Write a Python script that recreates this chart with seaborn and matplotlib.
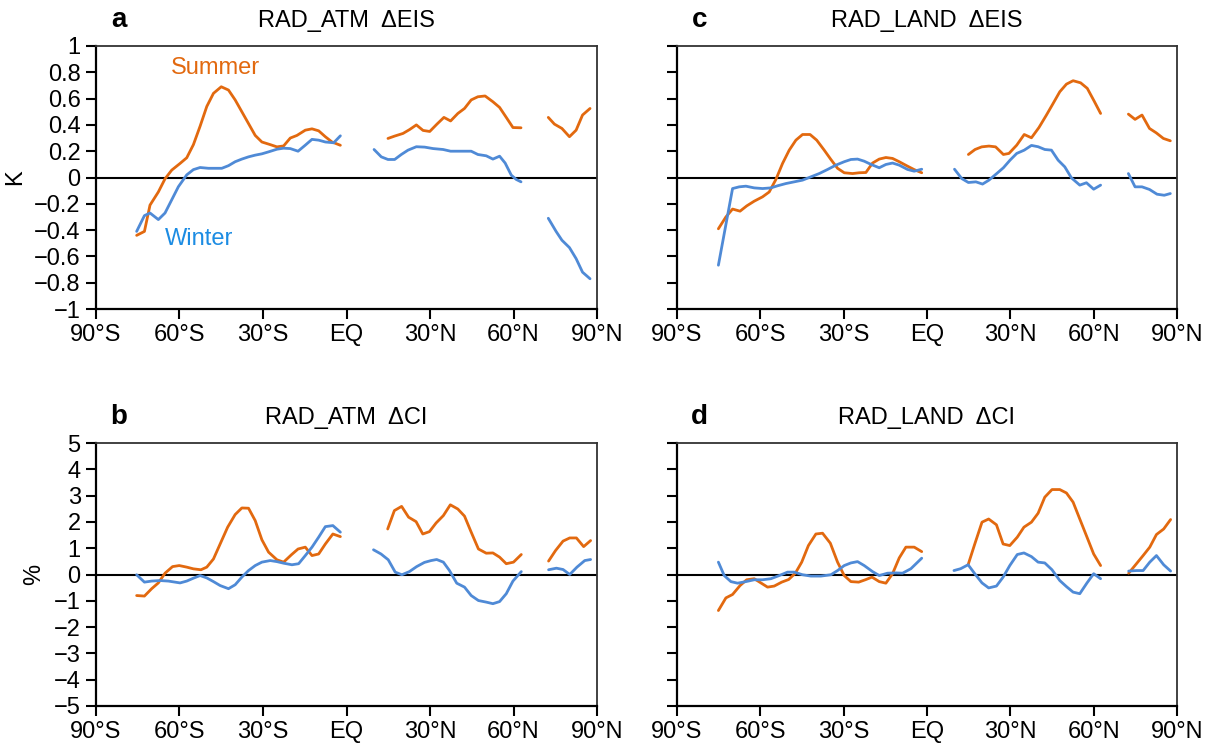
import numpy as np
import pandas as pd
import matplotlib
matplotlib.use("Agg")
import matplotlib.pyplot as plt
import seaborn as sns

sns.set_theme(style="ticks")
plt.rcParams["font.family"] = ["Liberation Sans", "DejaVu Sans"]
plt.rcParams["text.color"] = "black"
plt.rcParams["axes.labelcolor"] = "black"
plt.rcParams["xtick.color"] = "black"
plt.rcParams["ytick.color"] = "black"

# ---------------- data (None separates line segments) ----------------
# Panel a: RAD_ATM  dEIS (K)
a_sum_lat = [-75.4, -72.6, -70.6, -67.6, -65.2, -62.8, -59.8, -57.4, -55, -52.6, -50.2, -47.8, -45, -42.4, -40,
             -37.6, -35.2, -32.8, -30.4, -27.4, -25, -22.6, -20.2, -17.8, -14.8, -12.4, -10, -7.6, -5.2, -2.2, None,
             14.9, 17.3, 20.3, 22.7, 25.1, 27.5, 29.9, 32.5, 35, 37.4, 40, 42.4, 44.8, 47.2, 49.8, 52.6, 55, 57.4,
             59.8, 62.7, None,
             72.5, 74.7, 77.4, 80.1, 82.5, 84.8, 87.5]
a_sum_val = [-0.44, -0.41, -0.21, -0.11, -0.01, 0.056, 0.107, 0.15, 0.25, 0.39, 0.54, 0.64, 0.69, 0.665, 0.59,
             0.50, 0.41, 0.32, 0.27, 0.25, 0.233, 0.24, 0.30, 0.32, 0.36, 0.37, 0.355, 0.31, 0.27, 0.245, None,
             0.297, 0.315, 0.335, 0.365, 0.40, 0.358, 0.35, 0.406, 0.457, 0.43, 0.487, 0.525, 0.59, 0.614, 0.62,
             0.576, 0.533, 0.457, 0.38, 0.378, None,
             0.457, 0.406, 0.373, 0.31, 0.36, 0.475, 0.525]
a_win_lat = [-75.4, -72.6, -70.6, -67.6, -65.2, -62.8, -60.4, -57.4, -55, -52.6, -49.6, -44.8, -42.4, -40, -37.6,
             -35.2, -32.8, -30.4, -28, -25, -22.6, -20.2, -17.4, -14.8, -12.4, -10, -7.6, -4.6, -2.2, None,
             9.9, 12.5, 14.9, 17.3, 19.7, 22.1, 25.1, 28.1, 31.1, 34.7, 37.4, 40.6, 44.8, 47.2, 50.2, 52.6, 55,
             57, 59.2, 61, 62.7, None,
             72.5, 75.3, 77.4, 80.1, 82.5, 84.8, 87.5]
a_win_val = [-0.41, -0.29, -0.27, -0.32, -0.27, -0.17, -0.07, 0.02, 0.06, 0.076, 0.07, 0.07, 0.09, 0.12, 0.14,
             0.157, 0.17, 0.18, 0.195, 0.215, 0.223, 0.22, 0.20, 0.246, 0.29, 0.284, 0.27, 0.264, 0.317, None,
             0.213, 0.157, 0.137, 0.137, 0.175, 0.208, 0.234, 0.231, 0.22, 0.213, 0.20, 0.20, 0.20, 0.175, 0.165,
             0.14, 0.162, 0.11, 0.018, -0.015, -0.033, None,
             -0.31, -0.41, -0.477, -0.533, -0.617, -0.72, -0.77]

# Panel b: RAD_ATM  dCI (%)
b_sum_lat = [-75.4, -72.6, -70, -67.6, -65.2, -62.5, -60.1, -57.4, -55, -52.3, -50.2, -47.8, -45.4, -42.7, -40,
             -37.6, -35.2, -32.8, -30.4, -28, -25, -22.6, -19.8, -17.4, -14.8, -12.4, -10, -7.6, -4.9, -2.2, None,
             14.8, 17.2, 19.8, 22.3, 25, 27.4, 29.8, 32.2, 34.8, 37.3, 40, 42.4, 44.8, 47.4, 50.2, 52.6, 55, 57.4,
             60, 62.8, None,
             72.6, 75.1, 77.8, 80.2, 82.6, 85.2, 87.7]
b_sum_val = [-0.80, -0.82, -0.54, -0.32, 0.05, 0.30, 0.34, 0.28, 0.215, 0.18, 0.28, 0.59, 1.16, 1.80, 2.28,
             2.53, 2.52, 2.05, 1.32, 0.85, 0.56, 0.47, 0.75, 0.97, 1.04, 0.72, 0.78, 1.16, 1.54, 1.44, None,
             1.73, 2.43, 2.59, 2.18, 2.01, 1.54, 1.63, 1.96, 2.24, 2.65, 2.49, 2.22, 1.61, 0.97, 0.81, 0.82, 0.66,
             0.41, 0.47, 0.76, None,
             0.51, 0.91, 1.27, 1.39, 1.39, 1.06, 1.29]
b_win_lat = [-75.4, -72.6, -70, -67, -64, -59.8, -57.4, -55, -52.6, -50.2, -47.8, -45.4, -42.4, -40, -37.6,
             -35.2, -32.8, -30.4, -27.4, -25, -22.6, -19.6, -17.2, -14.8, -12.4, -10, -7.6, -4.9, -2.2, None,
             9.7, 12.4, 15, 17.5, 19.9, 22.6, 25.2, 28, 30.4, 32.4, 34.8, 37, 39.6, 42.4, 44.8, 47.4, 50.2, 52.6,
             55, 57.4, 59.8, 62.8, None,
             72.6, 75.4, 77.8, 80.2, 82.8, 85.6, 87.7]
b_win_val = [-0.01, -0.29, -0.25, -0.23, -0.25, -0.32, -0.25, -0.14, -0.04, -0.13, -0.27, -0.42, -0.54, -0.39,
             -0.10, 0.15, 0.34, 0.47, 0.53, 0.49, 0.43, 0.37, 0.41, 0.72, 1.04, 1.42, 1.82, 1.86, 1.61, None,
             0.94, 0.78, 0.56, 0.09, -0.01, 0.11, 0.30, 0.46, 0.53, 0.57, 0.47, 0.15, -0.33, -0.48, -0.80, -0.99,
             -1.05, -1.11, -1.03, -0.73, -0.25, 0.11, None,
             0.18, 0.24, 0.19, 0.0, 0.28, 0.53, 0.57]

# Panel c: RAD_LAND  dEIS (K)
c_sum_lat = [-75.1, -72.4, -70, -67.3, -64.9, -62.2, -59.2, -56.8, -54.4, -52, -49.6, -47.2, -44.8, -42.1, -39.7,
             -37, -34.6, -32.2, -29.8, -26.8, -24.4, -22, -19.6, -17.2, -14.8, -12.4, -10, -7, -4.6, -1.9, None,
             14.9, 17.3, 19.7, 22.3, 24.7, 27.5, 29.5, 32.3, 35, 37.6, 40.3, 43, 45.4, 47.8, 50.2, 52.6, 55.3,
             57.7, 60.1, 62.5, None,
             72.5, 74.9, 77.4, 80.1, 82.5, 85.1, 87.6]
c_sum_val = [-0.39, -0.30, -0.24, -0.256, -0.216, -0.18, -0.147, -0.11, -0.015, 0.107, 0.208, 0.284, 0.327, 0.327,
             0.284, 0.208, 0.137, 0.07, 0.036, 0.03, 0.036, 0.038, 0.11, 0.14, 0.152, 0.145, 0.12, 0.086, 0.06,
             0.036, None,
             0.175, 0.213, 0.233, 0.239, 0.233, 0.175, 0.183, 0.246, 0.327, 0.302, 0.38, 0.475, 0.563, 0.652, 0.71,
             0.736, 0.72, 0.678, 0.584, 0.487, None,
             0.482, 0.442, 0.475, 0.373, 0.34, 0.297, 0.279]
c_win_lat = [-75.1, -70, -67.6, -65.2, -62.2, -59.2, -56.2, -53.8, -50.8, -47.8, -44.8, -41.8, -38.8, -35.8,
             -32.8, -29.8, -27.4, -25, -22.6, -20.2, -17.2, -14.8, -12.4, -10, -7, -4.6, -1.9, None,
             9.9, 12.5, 14.9, 17.6, 20, 22.3, 25.1, 27.5, 29.9, 32.3, 35, 37.6, 40, 42.4, 44.8, 47.2, 49.6, 52,
             55, 57.4, 60, 62.5, None,
             72.5, 74.9, 77.4, 80.1, 82.8, 85.4, 87.6]
c_win_val = [-0.667, -0.084, -0.071, -0.066, -0.079, -0.084, -0.079, -0.063, -0.046, -0.033, -0.02, 0.005, 0.03,
             0.061, 0.094, 0.12, 0.137, 0.14, 0.124, 0.10, 0.074, 0.099, 0.11, 0.094, 0.061, 0.048, 0.063, None,
             0.063, -0.008, -0.038, -0.033, -0.05, -0.02, 0.03, 0.074, 0.132, 0.183, 0.208, 0.244, 0.234, 0.213,
             0.208, 0.132, 0.081, -0.003, -0.058, -0.04, -0.089, -0.058, None,
             0.03, -0.071, -0.071, -0.091, -0.127, -0.135, -0.122]

# Panel d: RAD_LAND  dCI (%)
d_sum_lat = [-75.1, -72.4, -70, -67.3, -64.9, -62.2, -59.8, -57.4, -55, -52.3, -49.8, -47.4, -45.1, -42.7, -40,
             -37.6, -34.8, -32.2, -29.8, -27.4, -24.6, -22.2, -19.8, -17.2, -14.8, -12.4, -10, -7.6, -4.6, -1.9, None,
             14.8, 17.2, 19.8, 22.2, 25, 27.4, 29.8, 32.5, 34.9, 37.6, 40, 42.4, 45, 47.8, 50.2, 52.6, 55, 57.6,
             60, 62.5, None,
             72.6, 75.4, 77.8, 80.2, 82.6, 85.2, 87.7]
d_sum_val = [-1.37, -0.89, -0.76, -0.42, -0.20, -0.16, -0.32, -0.48, -0.44, -0.29, -0.19, 0.05, 0.47, 1.10, 1.54,
             1.57, 1.19, 0.47, -0.04, -0.27, -0.29, -0.20, -0.10, -0.27, -0.33, 0.03, 0.63, 1.04, 1.04, 0.87, None,
             0.37, 1.16, 1.99, 2.11, 1.89, 1.16, 1.10, 1.42, 1.80, 1.99, 2.33, 2.94, 3.23, 3.23, 3.10, 2.75, 2.11,
             1.42, 0.78, 0.34, None,
             0.05, 0.41, 0.72, 1.04, 1.52, 1.73, 2.09]
d_win_lat = [-75.1, -73, -70.6, -68.2, -65.2, -62.2, -59.2, -56.2, -53.2, -50.2, -47.8, -44.8, -41.8, -38.2,
             -34.6, -32.2, -29.8, -27.4, -25, -22.6, -19.6, -17.2, -14.2, -11.2, -8.8, -5.8, -1.9, None,
             9.7, 12.1, 14.8, 17.2, 19.8, 22.2, 25, 27.4, 29.8, 32.5, 34.9, 37.6, 40, 42.4, 45, 47.8, 50.2, 52.6,
             55, 57.6, 60, 62.5, None,
             72.6, 75.4, 77.8, 80.2, 82.6, 85.2, 87.7]
d_win_val = [0.47, -0.04, -0.27, -0.33, -0.27, -0.20, -0.20, -0.16, -0.04, 0.09, 0.09, -0.01, -0.06, -0.06, -0.01,
             0.15, 0.34, 0.44, 0.49, 0.34, 0.11, -0.04, 0.05, 0.06, 0.05, 0.22, 0.62, None,
             0.15, 0.22, 0.37, 0.03, -0.32, -0.51, -0.44, -0.10, 0.34, 0.76, 0.82, 0.68, 0.47, 0.44, 0.18, -0.23,
             -0.46, -0.67, -0.73, -0.32, 0.03, -0.16, None,
             0.13, 0.15, 0.15, 0.47, 0.72, 0.37, 0.13]

x_ticks = [-90, -60, -30, 0, 30, 60, 90]
x_tick_labels = ["90°S", "60°S", "30°S", "EQ", "30°N", "60°N", "90°N"]
eis_ticks = [-1, -0.8, -0.6, -0.4, -0.2, 0, 0.2, 0.4, 0.6, 0.8, 1]
eis_tick_labels = ["\u22121", "\u22120.8", "\u22120.6", "\u22120.4", "\u22120.2", "0",
                   "0.2", "0.4", "0.6", "0.8", "1"]
ci_ticks = [-5, -4, -3, -2, -1, 0, 1, 2, 3, 4, 5]
ci_tick_labels = ["\u22125", "\u22124", "\u22123", "\u22122", "\u22121", "0", "1", "2", "3", "4", "5"]

ORANGE = "#E2690F"
BLUE = "#4F8AD6"
WINTER_TXT = "#1C8CE3"


def to_df(lat, val, season):
    rows = []
    seg = 0
    for la, v in zip(lat, val):
        if la is None:
            seg += 1
            continue
        rows.append((la, v, season, f"{season}{seg}"))
    return pd.DataFrame(rows, columns=["lat", "val", "season", "seg"])


W, H = 1217, 753
fig = plt.figure(figsize=(W / 100, H / 100), dpi=100)


def frac(x0, y_top, x1, y_bot):
    return [x0 / W, 1 - y_bot / H, (x1 - x0) / W, (y_bot - y_top) / H]


panels = [
    dict(pos=frac(96, 46, 597, 309), letter="a", title="RAD_ATM  \u0394EIS",
         s=(a_sum_lat, a_sum_val), w=(a_win_lat, a_win_val), yl=(-1, 1), yt=eis_ticks, ytl=eis_tick_labels,
         ylabel="K", labels=True),
    dict(pos=frac(96, 443, 597, 706), letter="b", title="RAD_ATM  \u0394CI",
         s=(b_sum_lat, b_sum_val), w=(b_win_lat, b_win_val), yl=(-5, 5), yt=ci_ticks, ytl=ci_tick_labels,
         ylabel="%", labels=True),
    dict(pos=frac(677, 46, 1177, 309), letter="c", title="RAD_LAND  \u0394EIS",
         s=(c_sum_lat, c_sum_val), w=(c_win_lat, c_win_val), yl=(-1, 1), yt=eis_ticks, ytl=eis_tick_labels,
         ylabel="", labels=False),
    dict(pos=frac(677, 443, 1177, 706), letter="d", title="RAD_LAND  \u0394CI",
         s=(d_sum_lat, d_sum_val), w=(d_win_lat, d_win_val), yl=(-5, 5), yt=ci_ticks, ytl=ci_tick_labels,
         ylabel="", labels=False),
]

FS = 17
for p in panels:
    ax = fig.add_axes(p["pos"])
    df = pd.concat([to_df(*p["s"], "Summer"), to_df(*p["w"], "Winter")], ignore_index=True)
    sns.lineplot(data=df, x="lat", y="val", hue="season", units="seg", estimator=None,
                 palette={"Summer": ORANGE, "Winter": BLUE}, legend=False, sort=False,
                 linewidth=2.0, ax=ax)
    ax.axhline(0, color="black", lw=1.5, zorder=1)
    ax.set_xlim(-90, 90)
    ax.set_ylim(*p["yl"])
    ax.set_xticks(x_ticks)
    ax.set_xticklabels(x_tick_labels, fontsize=FS)
    ax.set_yticks(p["yt"])
    if p["labels"]:
        ax.set_yticklabels(p["ytl"], fontsize=FS)
    else:
        ax.set_yticklabels([])
    ax.set_xlabel("")
    ax.set_ylabel(p["ylabel"], fontsize=FS, labelpad=6, color="black")
    ax.tick_params(direction="out", length=7, width=1.5, colors="black", labelcolor="black", pad=4)
    for side in ["left", "bottom"]:
        ax.spines[side].set_linewidth(1.6)
        ax.spines[side].set_color("black")
    for side in ["top", "right"]:
        ax.spines[side].set_linewidth(1.3)
        ax.spines[side].set_color("#333333")
    ax.set_title(p["title"], fontsize=FS, pad=14, color="black")
    ax.text(0.045, 1.1, p["letter"], transform=ax.transAxes, fontsize=20, fontweight="bold",
            ha="center", va="center", color="black")
    if p["letter"] == "a":
        ax.text(-47.2, 0.83, "Summer", color=ORANGE, fontsize=FS, ha="center", va="center")
        ax.text(-52.9, -0.47, "Winter", color=WINTER_TXT, fontsize=FS, ha="center", va="center")

fig.savefig("out.png", dpi=100, facecolor="white")
